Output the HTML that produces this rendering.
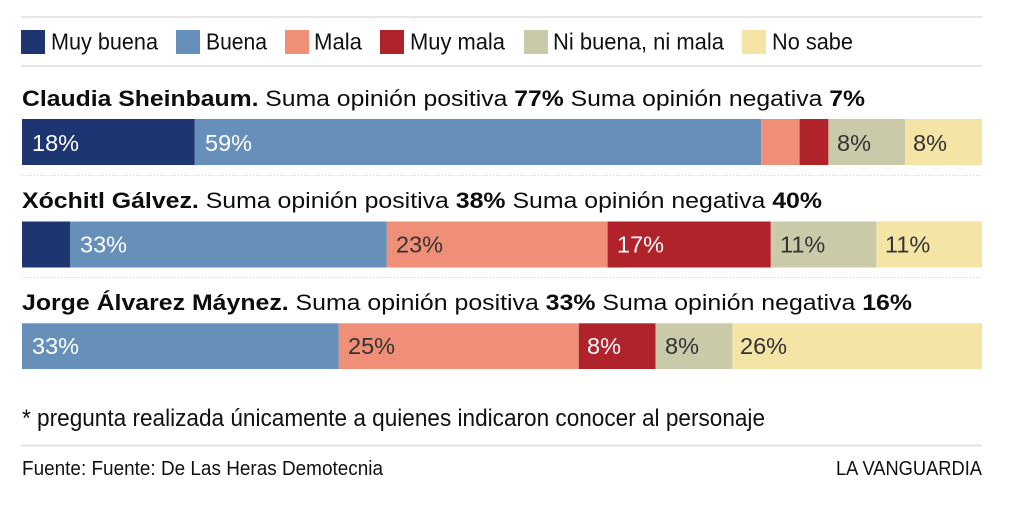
<!DOCTYPE html>
<html><head><meta charset="utf-8"><style>
html,body{margin:0;padding:0;background:#fff;}
svg{display:block;}
text{font-family:"Liberation Sans",sans-serif;}
</style></head><body>
<svg width="1024" height="526" viewBox="0 0 1024 526" xmlns="http://www.w3.org/2000/svg">
<rect width="1024" height="526" fill="#fff"/>
<!-- top lines -->
<rect x="21" y="16" width="961" height="2" fill="#e6e6e6"/>
<rect x="21" y="65" width="961" height="2" fill="#e6e6e6"/>
<!-- legend -->
<g font-size="23" fill="#111">
<rect x="21" y="30" width="24" height="24" fill="#1d3570"/>
<text x="51" y="49.5" textLength="107" lengthAdjust="spacingAndGlyphs">Muy buena</text>
<rect x="176" y="30" width="24" height="24" fill="#6690b9"/>
<text x="206" y="49.5" textLength="61" lengthAdjust="spacingAndGlyphs">Buena</text>
<rect x="285" y="30" width="24" height="24" fill="#f08f77"/>
<text x="314" y="49.5" textLength="48" lengthAdjust="spacingAndGlyphs">Mala</text>
<rect x="380" y="30" width="24" height="24" fill="#b0232b"/>
<text x="410" y="49.5" textLength="95" lengthAdjust="spacingAndGlyphs">Muy mala</text>
<rect x="524" y="30" width="24" height="24" fill="#cacaab"/>
<text x="553" y="49.5" textLength="171" lengthAdjust="spacingAndGlyphs">Ni buena, ni mala</text>
<rect x="742" y="30" width="24" height="24" fill="#f4e4a5"/>
<text x="772" y="49.5" textLength="81" lengthAdjust="spacingAndGlyphs">No sabe</text>
</g>

<!-- Row 1 -->
<text x="22" y="106" font-size="22" fill="#0d0d0d" textLength="843" lengthAdjust="spacingAndGlyphs"><tspan font-weight="bold">Claudia Sheinbaum.</tspan> Suma opinión positiva <tspan font-weight="bold">77%</tspan> Suma opinión negativa <tspan font-weight="bold">7%</tspan></text>
<rect x="22" y="119" width="172.8" height="46" fill="#1d3570"/>
<rect x="194.8" y="119" width="566.4" height="46" fill="#6690b9"/>
<rect x="761.2" y="119" width="38.4" height="46" fill="#f08f77"/>
<rect x="799.6" y="119" width="28.8" height="46" fill="#b0232b"/>
<rect x="828.4" y="119" width="76.8" height="46" fill="#cacaab"/>
<rect x="905.2" y="119" width="76.8" height="46" fill="#f4e4a5"/>
<g font-size="23.5">
<text x="32" y="151" fill="#fff">18%</text>
<text x="205" y="151" fill="#fff">59%</text>
<text x="837" y="151" fill="#333">8%</text>
<text x="913" y="151" fill="#333">8%</text>
</g>
<line x1="22" y1="175.5" x2="982" y2="175.5" stroke="#cfcfcf" stroke-width="1" stroke-dasharray="1,2"/>

<!-- Row 2 -->
<text x="22" y="208" font-size="22" fill="#0d0d0d" textLength="800" lengthAdjust="spacingAndGlyphs"><tspan font-weight="bold">Xóchitl Gálvez.</tspan> Suma opinión positiva <tspan font-weight="bold">38%</tspan> Suma opinión negativa <tspan font-weight="bold">40%</tspan></text>
<rect x="22" y="221.5" width="48" height="46" fill="#1d3570"/>
<rect x="70" y="221.5" width="316.8" height="46" fill="#6690b9"/>
<rect x="386.8" y="221.5" width="220.8" height="46" fill="#f08f77"/>
<rect x="607.6" y="221.5" width="163.2" height="46" fill="#b0232b"/>
<rect x="770.8" y="221.5" width="105.6" height="46" fill="#cacaab"/>
<rect x="876.4" y="221.5" width="105.6" height="46" fill="#f4e4a5"/>
<g font-size="23.5">
<text x="80" y="252.5" fill="#fff">33%</text>
<text x="396" y="252.5" fill="#333">23%</text>
<text x="617" y="252.5" fill="#fff">17%</text>
<text x="780" y="252.5" fill="#333">11%</text>
<text x="885" y="252.5" fill="#333">11%</text>
</g>
<line x1="22" y1="277.5" x2="982" y2="277.5" stroke="#cfcfcf" stroke-width="1" stroke-dasharray="1,2"/>

<!-- Row 3 -->
<text x="22" y="310" font-size="22" fill="#0d0d0d" textLength="890" lengthAdjust="spacingAndGlyphs"><tspan font-weight="bold">Jorge Álvarez Máynez.</tspan> Suma opinión positiva <tspan font-weight="bold">33%</tspan> Suma opinión negativa <tspan font-weight="bold">16%</tspan></text>
<rect x="22" y="323.3" width="316.8" height="45.7" fill="#6690b9"/>
<rect x="338.8" y="323.3" width="240" height="45.7" fill="#f08f77"/>
<rect x="578.8" y="323.3" width="76.8" height="45.7" fill="#b0232b"/>
<rect x="655.6" y="323.3" width="76.8" height="45.7" fill="#cacaab"/>
<rect x="732.4" y="323.3" width="249.6" height="45.7" fill="#f4e4a5"/>
<g font-size="23.5">
<text x="32" y="354" fill="#fff">33%</text>
<text x="348" y="354" fill="#333">25%</text>
<text x="587" y="354" fill="#fff">8%</text>
<text x="665" y="354" fill="#333">8%</text>
<text x="740" y="354" fill="#333">26%</text>
</g>

<!-- footnote -->
<text x="22" y="426" font-size="24" fill="#111" textLength="743" lengthAdjust="spacingAndGlyphs">* pregunta realizada únicamente a quienes indicaron conocer al personaje</text>
<rect x="21" y="444.5" width="961" height="2" fill="#e3e3e3"/>
<text x="22" y="475" font-size="20" fill="#111" textLength="361" lengthAdjust="spacingAndGlyphs">Fuente: Fuente: De Las Heras Demotecnia</text>
<text x="836" y="475" font-size="20" fill="#111" textLength="146" lengthAdjust="spacingAndGlyphs">LA VANGUARDIA</text>
</svg>
</body></html>
